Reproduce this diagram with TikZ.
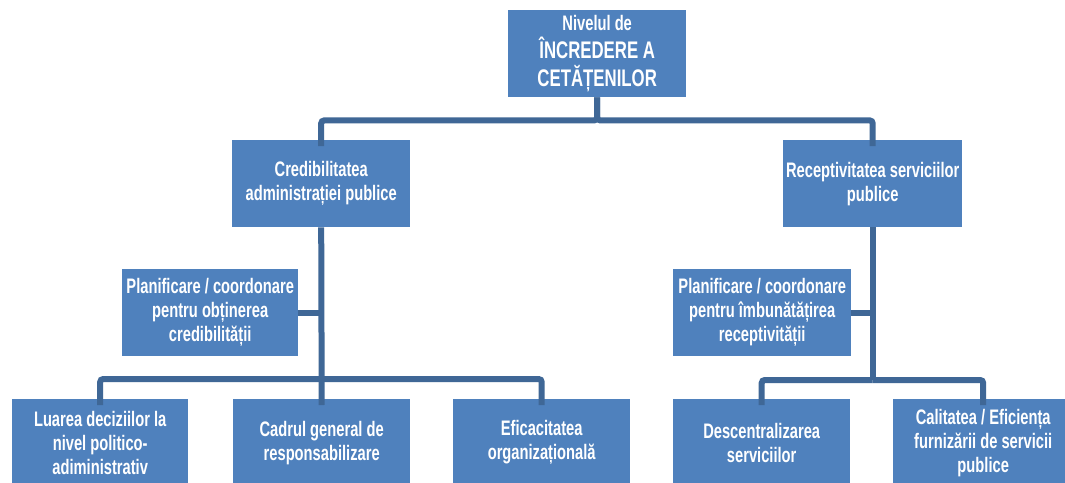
\documentclass[tikz,border=0pt]{standalone}
\usepackage{fontspec}
\newfontfamily\agency[FakeStretch=0.7]{Liberation Sans}
\definecolor{boxblue}{HTML}{4F81BD}
\definecolor{lineblue}{HTML}{3F6796}
\begin{document}
\begin{tikzpicture}[x=1pt,y=-1pt,
  box/.style={fill=boxblue,text=white,align=center,inner sep=0pt,anchor=north west,
    minimum height=87pt,font=\agency\bfseries\fontsize{21}{24}\selectfont},
  conn/.style={draw=lineblue,line width=6pt,rounded corners=3pt}]
\useasboundingbox (0,0) rectangle (1065,482);
\clip (0,0) rectangle (1065,482);
\fill[white] (0,0) rectangle (1065,482);
% nodes
\node[box,minimum width=178pt,font=\agency\bfseries\fontsize{24}{28}\selectfont] (top) at (508,10) {{\fontsize{21}{28}\selectfont Nivelul de}\\ÎNCREDERE A\\CETĂȚENILOR};
\node[box,minimum width=178pt] (cred) at (232,140) {Credibilitatea\\administrației publice};
\node[box,minimum width=179pt] (rec) at (783,140) {Receptivitatea serviciilor\\publice};
\node[box,minimum width=176pt] (planL) at (122,269) {Planificare / coordonare\\pentru obținerea\\credibilității};
\node[box,minimum width=178pt] (planR) at (673,269) {Planificare / coordonare\\pentru îmbunătățirea\\receptivității};
\node[box,minimum width=176pt] (luarea) at (12,399) {Luarea deciziilor la\\nivel politico-\\adiministrativ};
\node[box,minimum width=177pt] (cadrul) at (233,399) {Cadrul general de\\responsabilizare};
\node[box,minimum width=177pt] (efic) at (453,399) {Eficacitatea\\organizațională};
\node[box,minimum width=177pt] (desc) at (673,399) {Descentralizarea\\serviciilor};
\node[box,minimum width=180pt,minimum height=87pt] (calit) at (893,399) {Calitatea / Eficiența\\furnizării de servicii\\publice};
% connectors
\draw[conn] (top.south) -- ++(0,23) -| ([yshift=-6pt]cred.north);
\draw[conn] (top.south) -- ++(0,23) -| ([yshift=-6pt]rec.north);
\coordinate (jl) at (cred.south |- 0,379);
\coordinate (jr) at (rec.south |- 0,380);
\draw[conn] (cred.south) -- ([yshift=-6pt]cadrul.north);
\draw[conn] (jl) -| ([yshift=-6pt]luarea.north);
\draw[conn] (jl) -| ([yshift=-6pt]efic.north);
\draw[conn] (planL.east) -- (planL.east -| cred.south);
\draw[conn] (rec.south) -- (jr);
\draw[conn] (jr) -| ([yshift=-6pt]desc.north);
\draw[conn] (jr) -| ([yshift=-6pt]calit.north);
\draw[conn] (planR.east) -- (planR.east -| rec.south);
\end{tikzpicture}
\end{document}
